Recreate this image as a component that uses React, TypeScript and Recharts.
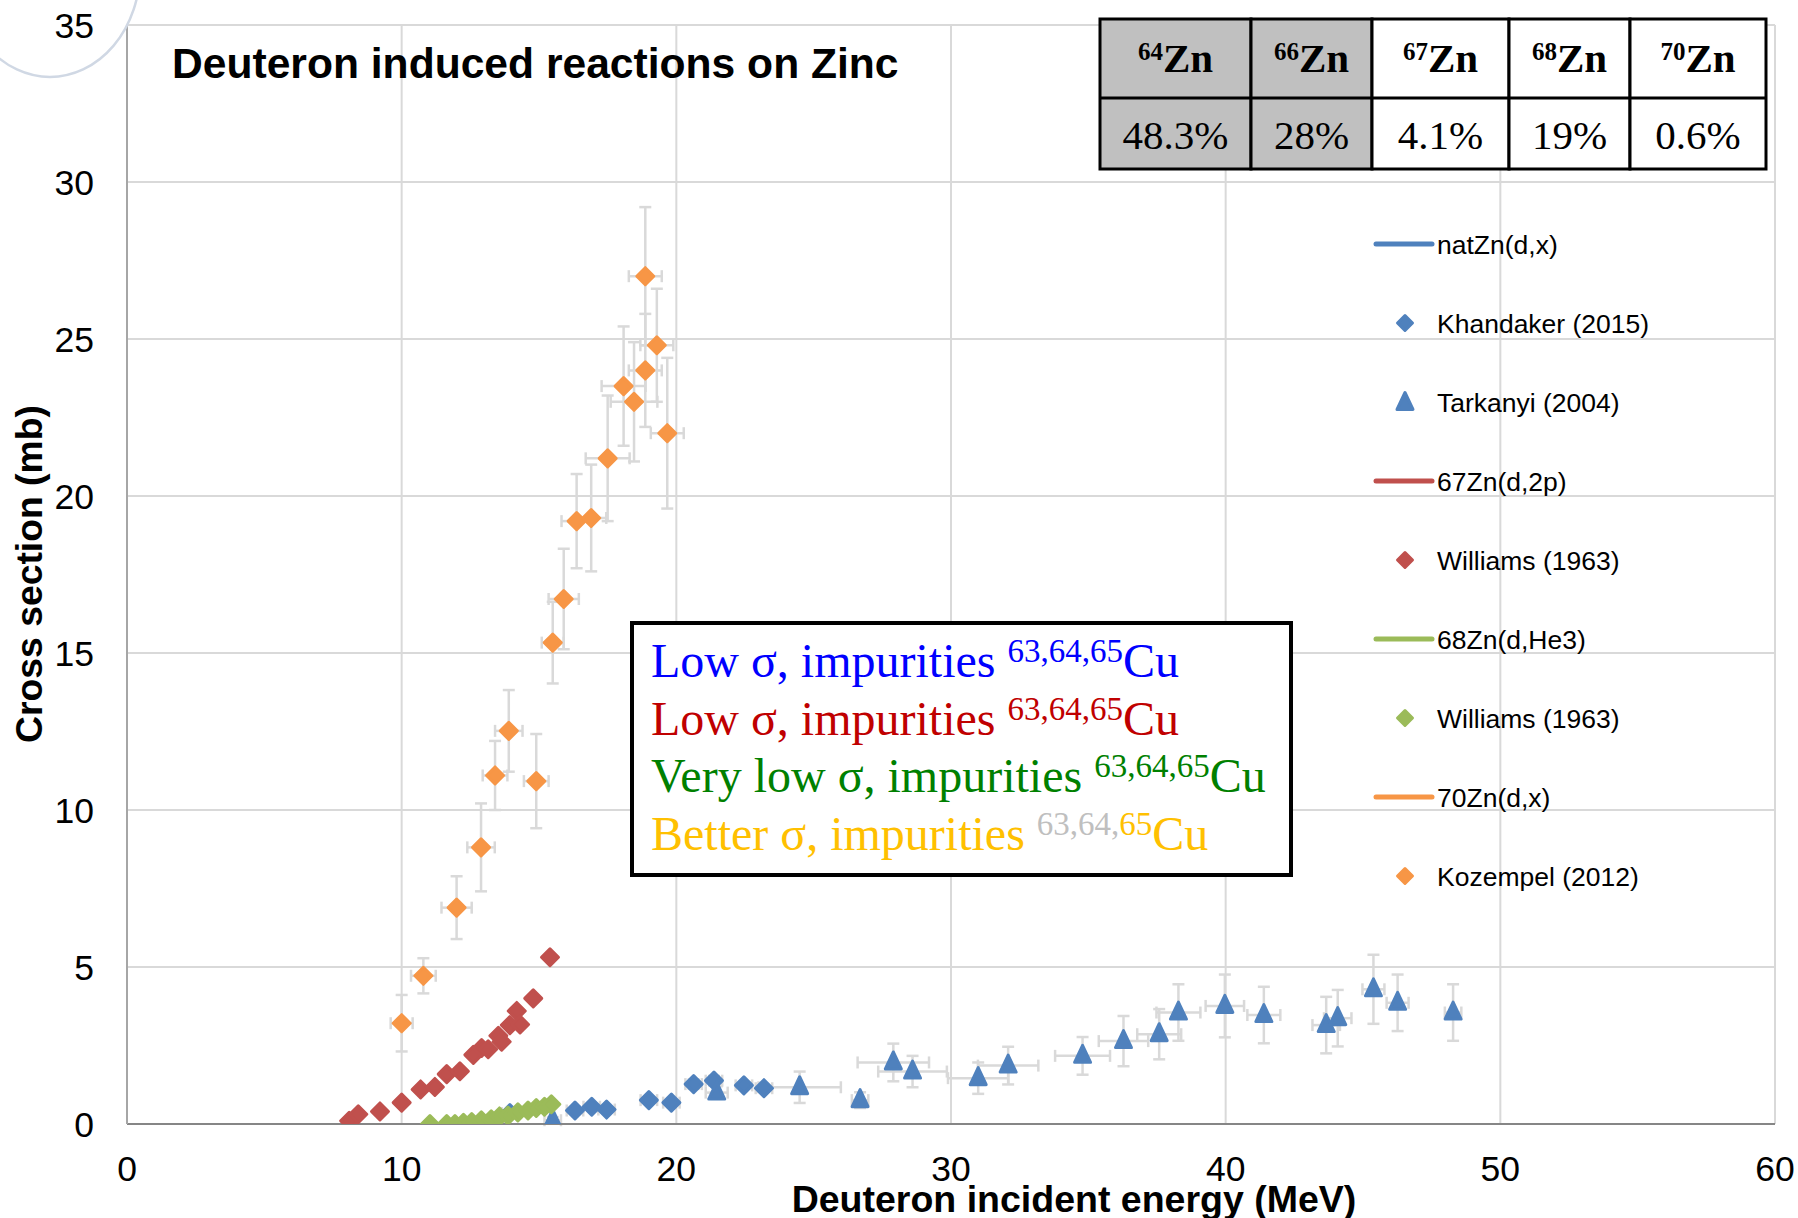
import React from 'react';
import { ScatterChart, Scatter, XAxis, YAxis, CartesianGrid, ErrorBar, Label } from 'recharts';

const W = 1798;
const H = 1218;
const SANS = '"Liberation Sans", Arial, sans-serif';
const SERIF = '"Liberation Serif", "Times New Roman", serif';

// [energy (MeV), cross section (mb), dE, dSigma]
const khandaker2015 = [
  [13.94, 0.35, 0.3, 0.1], [16.31, 0.43, 0.3, 0.1], [16.92, 0.55, 0.3, 0.1], [17.46, 0.46, 0.3, 0.1],
  [19.0, 0.76, 0.3, 0.1], [19.82, 0.68, 0.3, 0.1], [20.63, 1.27, 0.3, 0.15], [21.37, 1.38, 0.3, 0.15],
  [22.46, 1.23, 0.3, 0.1], [23.19, 1.14, 0.3, 0.1],
];

const tarkanyi2004 = [
  [15.5, 0.12, 0.3, 0.1], [21.47, 1.0, 0.4, 0.2], [24.49, 1.17, 1.5, 0.5], [26.69, 0.76, 0.3, 0.25],
  [27.9, 1.96, 1.3, 0.6], [28.6, 1.67, 1.25, 0.5], [30.99, 1.46, 1.1, 0.5], [32.08, 1.86, 1.1, 0.6],
  [34.79, 2.17, 1.0, 0.6], [36.28, 2.64, 0.9, 0.8], [37.58, 2.86, 0.8, 0.8], [38.28, 3.55, 0.8, 0.9],
  [39.97, 3.76, 0.7, 1.0], [41.39, 3.47, 0.6, 0.9], [43.66, 3.15, 0.5, 0.9], [44.08, 3.37, 0.5, 0.9],
  [45.38, 4.29, 0.4, 1.1], [46.26, 3.86, 0.4, 0.9], [48.28, 3.55, 0.3, 0.9],
];

// 67Zn(d,2p), no error bars
const williams67 = [
  [8.09, 0.1], [8.42, 0.31], [9.21, 0.4], [10.0, 0.68], [10.69, 1.1], [11.21, 1.18], [11.64, 1.59],
  [12.12, 1.68], [12.61, 2.2], [12.91, 2.42], [13.15, 2.38], [13.52, 2.81], [13.64, 2.62], [13.94, 3.15],
  [14.19, 3.6], [14.31, 3.17], [14.79, 4.0], [15.4, 5.31],
];

// 68Zn(d,He3), no error bars
const williams68 = [
  [11.03, 0.0], [11.64, 0.0], [11.94, 0.0], [12.25, 0.04], [12.55, 0.06], [12.9, 0.12], [13.26, 0.15],
  [13.56, 0.24], [13.87, 0.27], [14.23, 0.37], [14.6, 0.43], [14.9, 0.51], [15.2, 0.55], [15.45, 0.63],
];

const kozempel2012 = [
  [10.0, 3.21, 0.4, 0.9], [10.79, 4.72, 0.45, 0.56], [12.0, 6.89, 0.55, 1.0], [12.89, 8.81, 0.5, 1.4],
  [13.4, 11.1, 0.45, 1.1], [13.9, 12.52, 0.5, 1.3], [14.9, 10.92, 0.45, 1.5], [15.5, 15.33, 0.4, 1.3],
  [15.9, 16.72, 0.55, 1.6], [16.37, 19.2, 0.55, 1.5], [16.9, 19.3, 0.55, 1.7], [17.5, 21.2, 0.8, 2.0],
  [18.08, 23.5, 0.8, 1.9], [18.46, 23.0, 0.85, 1.9], [18.87, 27.0, 0.6, 2.2], [18.87, 24.0, 0.6, 1.8],
  [19.29, 24.8, 0.6, 1.8], [19.67, 22.0, 0.6, 2.4],
];

const xTicks = [0, 10, 20, 30, 40, 50, 60];
const yTicks = [0, 5, 10, 15, 20, 25, 30, 35];

const isotopes = ['64', '66', '67', '68', '70'];
const abundances = ['48.3%', '28%', '4.1%', '19%', '0.6%'];
const shaded = [true, true, false, false, false];

const BLUE = '#4f81bd';
const RED = '#c0504d';
const GREEN = '#9bbb59';
const ORANGE = '#f79646';
const ERR = '#d9d9d9';

const legendItems = [
  { name: 'natZn(d,x)', kind: 'line', color: BLUE },
  { name: 'Khandaker (2015)', kind: 'diamond', color: BLUE },
  { name: 'Tarkanyi (2004)', kind: 'triangle', color: BLUE },
  { name: '67Zn(d,2p)', kind: 'line', color: RED },
  { name: 'Williams (1963)', kind: 'diamond', color: RED },
  { name: '68Zn(d,He3)', kind: 'line', color: GREEN },
  { name: 'Williams (1963)', kind: 'diamond', color: GREEN },
  { name: '70Zn(d,x)', kind: 'line', color: ORANGE },
  { name: 'Kozempel (2012)', kind: 'diamond', color: ORANGE },
];

const notes = [
  { text: 'Low σ, impurities ', sup: [['63,64,65', '#0000ff']], color: '#0000ff' },
  { text: 'Low σ, impurities ', sup: [['63,64,65', '#c00000']], color: '#c00000' },
  { text: 'Very low σ, impurities ', sup: [['63,64,65', '#008000']], color: '#008000' },
  { text: 'Better σ, impurities ', sup: [['63,64,', '#bfbfbf'], ['65', '#ffc000']], color: '#ffc000' },
];

const toPoints = (rows: number[][]) => rows.map(([x, y, ex, ey]) => ({ x, y, ex: ex ?? 0, ey: ey ?? 0 }));

const diamondPath = (cx: number, cy: number, r = 8.5) =>
  `M${cx},${cy - r}L${cx + r},${cy}L${cx},${cy + r}L${cx - r},${cy}Z`;
const trianglePath = (cx: number, cy: number) =>
  `M${cx},${cy - 10.5}L${cx + 8},${cy + 6.5}L${cx - 8},${cy + 6.5}Z`;

const diamond = (color: string) => (p: any) => {
  if (p.cx == null || p.cy == null) return <g />;
  return <path d={diamondPath(p.cx, p.cy)} fill={color} stroke={color} strokeWidth={3} strokeLinejoin="round" />;
};
const triangle = (color: string) => (p: any) => {
  if (p.cx == null || p.cy == null) return <g />;
  return <path d={trianglePath(p.cx, p.cy)} fill={color} stroke={color} strokeWidth={3} strokeLinejoin="round" />;
};

const errBars = [
  <ErrorBar key="ex" dataKey="ex" direction="x" width={6} stroke={ERR} strokeWidth={2.5} isAnimationActive={false} />,
  <ErrorBar key="ey" dataKey="ey" direction="y" width={6} stroke={ERR} strokeWidth={2.5} isAnimationActive={false} />,
];

const Overlay = () => {
  const cols = [1100, 1251, 1372, 1509, 1630, 1766];
  const rows = [19, 98, 169];
  const legendX = 1376;
  const legendY0 = 244;
  const legendStep = 79;
  return (
    <svg width={W} height={H} style={{ position: 'absolute', left: 0, top: 0, pointerEvents: 'none' }}>
      <ellipse cx={50} cy={-30} rx={90} ry={107} fill="none" stroke="#d0d8e4" strokeWidth={2.5} />
      <text x={172} y={78} fontFamily={SANS} fontWeight="bold" fontSize={42.6} fill="#000">
        Deuteron induced reactions on Zinc
      </text>

      {/* isotopic abundance table */}
      {isotopes.map((iso, i) => (
        <g key={iso}>
          <rect x={cols[i]} y={rows[0]} width={cols[i + 1] - cols[i]} height={rows[2] - rows[0]}
            fill={shaded[i] ? '#c0c0c0' : '#fff'} stroke="#000" strokeWidth={3} />
          <text x={(cols[i] + cols[i + 1]) / 2} y={72} textAnchor="middle" fontFamily={SERIF} fontWeight="bold" fill="#000">
            <tspan fontSize={25} dy={-12}>{iso}</tspan>
            <tspan fontSize={41} dy={12}>Zn</tspan>
          </text>
          <text x={(cols[i] + cols[i + 1]) / 2} y={149} textAnchor="middle" fontFamily={SERIF} fontSize={41} fill="#000">
            {abundances[i]}
          </text>
        </g>
      ))}
      <line x1={cols[0]} x2={cols[5]} y1={rows[1]} y2={rows[1]} stroke="#000" strokeWidth={3} />

      {/* annotation box */}
      <rect x={632} y={623} width={659} height={252} fill="#fff" stroke="#000" strokeWidth={4} />
      {notes.map((n, i) => (
        <text key={i} x={651} y={677 + i * 57.7} fontFamily={SERIF} fontSize={48}>
          <tspan fill={n.color}>{n.text}</tspan>
          {n.sup.map(([t, c], j) => (
            <tspan key={j} fill={c} fontSize={33} dy={j === 0 ? -15 : 0}>{t}</tspan>
          ))}
          <tspan fill={n.color} dy={15}>Cu</tspan>
        </text>
      ))}

      {/* legend */}
      {legendItems.map((it, i) => {
        const y = legendY0 + i * legendStep;
        return (
          <g key={i}>
            {it.kind === 'line' && (
              <line x1={legendX} x2={legendX + 56} y1={y} y2={y} stroke={it.color} strokeWidth={5} strokeLinecap="round" />
            )}
            {it.kind === 'diamond' && (
              <path d={diamondPath(legendX + 29, y, 7.5)} fill={it.color} stroke={it.color} strokeWidth={3} strokeLinejoin="round" />
            )}
            {it.kind === 'triangle' && (
              <path d={trianglePath(legendX + 29, y + 1)} fill={it.color} stroke={it.color} strokeWidth={3} strokeLinejoin="round" />
            )}
            <text x={legendX + 61} y={y + 9.5} fontFamily={SANS} fontSize={26.5} fill="#000">{it.name}</text>
          </g>
        );
      })}
    </svg>
  );
};

export default function App() {
  const tickStyle = { fontSize: 35.5, fill: '#000', fontFamily: SANS };
  return (
    <div style={{ position: 'absolute', left: 0, top: 0, width: W, height: H, background: '#fff' }}>
      <ScatterChart width={W} height={H} margin={{ top: 25, right: 23, bottom: 34, left: 0 }}>
        <CartesianGrid stroke="#d9d9d9" strokeWidth={2} />
        <XAxis type="number" dataKey="x" domain={[0, 60]} ticks={xTicks} allowDataOverflow height={60}
          tickLine={false} tickSize={6} tickMargin={26} axisLine={{ stroke: '#868686', strokeWidth: 2 }} tick={tickStyle}>
          <Label content={() => (
            <text x={1074} y={1212} textAnchor="middle" fontFamily={SANS} fontWeight="bold" fontSize={37.5} fill="#000">
              Deuteron incident energy (MeV)
            </text>
          )} />
        </XAxis>
        <YAxis type="number" dataKey="y" domain={[0, 35]} ticks={yTicks} allowDataOverflow width={127}
          tickLine={false} tickSize={6} tickMargin={27} axisLine={{ stroke: '#a6a6a6', strokeWidth: 2 }} tick={tickStyle}>
          <Label content={() => (
            <text x={42} y={574} transform="rotate(-90 42 574)" textAnchor="middle" fontFamily={SANS} fontWeight="bold" fontSize={37.3} fill="#000">
              Cross section (mb)
            </text>
          )} />
        </YAxis>
        <Scatter name="Khandaker (2015)" data={toPoints(khandaker2015)} shape={diamond(BLUE)} isAnimationActive={false}>
          {errBars}
        </Scatter>
        <Scatter name="Tarkanyi (2004)" data={toPoints(tarkanyi2004)} shape={triangle(BLUE)} isAnimationActive={false}>
          {errBars}
        </Scatter>
        <Scatter name="Williams (1963) 67Zn" data={toPoints(williams67)} shape={diamond(RED)} isAnimationActive={false} />
        <Scatter name="Williams (1963) 68Zn" data={toPoints(williams68)} shape={diamond(GREEN)} isAnimationActive={false} />
        <Scatter name="Kozempel (2012)" data={toPoints(kozempel2012)} shape={diamond(ORANGE)} isAnimationActive={false}>
          {errBars}
        </Scatter>
      </ScatterChart>
      <Overlay />
    </div>
  );
}
